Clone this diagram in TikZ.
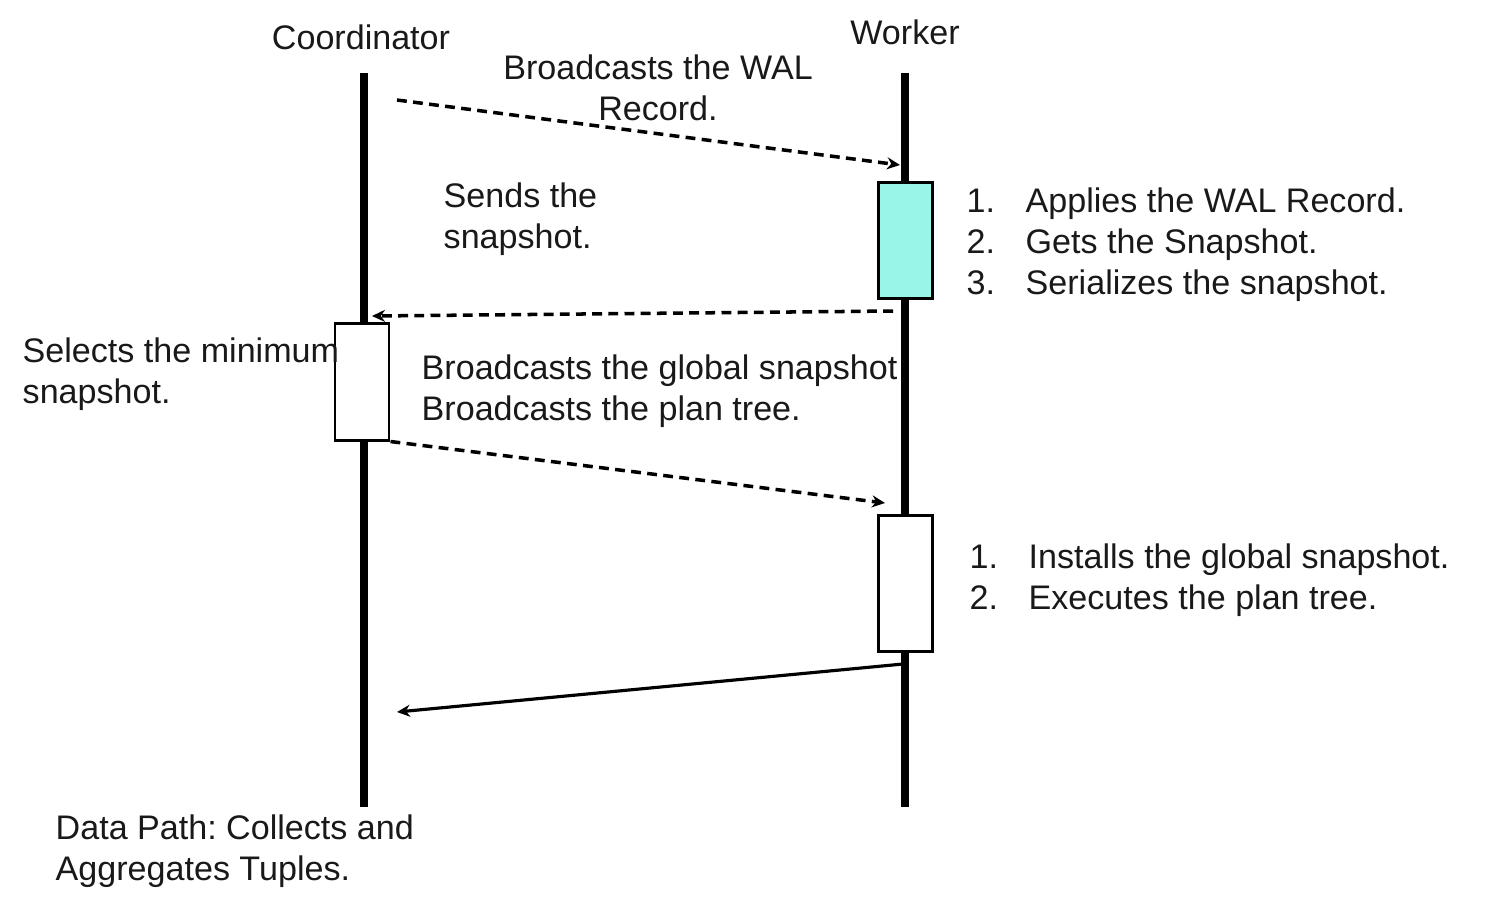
\documentclass[tikz,border=0pt]{standalone}
\usepackage{fontspec}
\setmainfont{Liberation Sans}
\usetikzlibrary{arrows.meta}
\frenchspacing

\definecolor{applyfill}{RGB}{153,245,232}
\definecolor{textgray}{RGB}{25,25,25}

\tikzset{
  lifeline/.style={line width=2pt},
  actbox/.style={draw, line width=0.85pt, fill=white, minimum width=0.54cm, inner sep=0pt},
  msg/.style={line width=1pt, dash pattern=on 2.8pt off 1.8pt, -{Stealth[length=1.3mm,width=1.2mm]}},
  reply/.style={line width=0.9pt, -{Stealth[length=1.3mm,width=1.2mm]}},
  lbl/.style={text=textgray, inner sep=0pt, font=\fontsize{9.7}{11.7}\selectfont},
}
\newcommand{\itemno}[1]{\makebox[0.59cm][l]{#1}}

\begin{document}
\begin{tikzpicture}[y=-1cm]
\useasboundingbox (0,0) rectangle (15.04,9.11);

 % lifelines
\node[lbl] (coord) at (3.61,0.37) {Coordinator};
\node[lbl] (worker) at (9.05,0.32) {Worker};
\coordinate (ctop) at (3.64,0.73);
\coordinate (cbot) at (3.64,8.07);
\coordinate (wtop) at (9.05,0.73);
\coordinate (wbot) at (9.05,8.07);
\draw[lifeline] (ctop) -- (cbot);
\draw[lifeline] (wtop) -- (wbot);

 % activation boxes
\node[actbox, fill=applyfill, minimum height=1.16cm] (apply) at (9.05,2.40) {};
\node[actbox, minimum height=1.17cm] (select) at (3.62,3.815) {};
\node[actbox, minimum height=1.36cm] (install) at (9.05,5.83) {};

 % messages
\coordinate (m1s) at (3.97,1.00);
\coordinate (m1e) at (9.00,1.65);
\coordinate (m2s) at (8.93,3.11);
\coordinate (m2e) at (3.72,3.16);
\coordinate (m4s) at (9.03,6.64);
\coordinate (m4e) at (3.97,7.12);
\coordinate (m3e) at (8.85,5.03);
\draw[msg] (m1s) -- (m1e);
\draw[msg] (m2s) -- (m2e);
\draw[msg] (select.south east) -- (m3e);
\draw[reply] (m4s) -- (m4e);

 % labels
\node[lbl, align=center] (wal) at (6.58,0.88) {Broadcasts the WAL\\Record.};
\node[lbl, align=left, anchor=west] (sends) at (4.43,2.195) {Sends the\\snapshot.};
\node[lbl, align=left, anchor=west] (steps) at (9.66,2.45)
  {\itemno{1.}Applies the WAL Record.\\\itemno{2.}Gets the Snapshot.\\\itemno{3.}Serializes the snapshot.};
\node[lbl, align=left, anchor=west] (minimum) at (0.22,3.745) {Selects the minimum\\snapshot.};
\node[lbl, align=left, anchor=west] (global) at (4.21,3.91) {Broadcasts the global snapshot\\Broadcasts the plan tree.};
\node[lbl, align=left, anchor=west] (exec) at (9.69,5.805)
  {\itemno{1.}Installs the global snapshot.\\\itemno{2.}Executes the plan tree.};
\node[lbl, align=left, anchor=west] (datapath) at (0.55,8.515) {Data Path: Collects and\\Aggregates Tuples.};
\end{tikzpicture}
\end{document}
